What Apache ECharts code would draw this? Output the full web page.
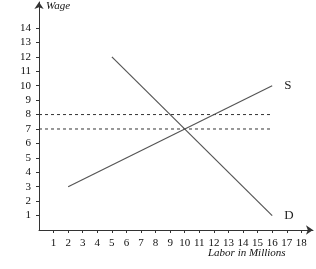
<!DOCTYPE html>
<html>
<head>
<meta charset="utf-8">
<script src="https://cdn.jsdelivr.net/npm/echarts@6/dist/echarts.min.js"></script>
<style>
  html, body { margin: 0; padding: 0; background: #fff; }
  #main { width: 316px; height: 269px; }
</style>
</head>
<body>
<div id="main"></div>
<script>
// supply and demand lines (labor in millions, wage)
var supplyX = [2, 16];
var supplyY = [3, 10];
var demandX = [5, 16];
var demandY = [12, 1];
var wageLevels = [7, 8];
var dashStart = 0;
var dashEnd = 16;
var xTicks = [1, 2, 3, 4, 5, 6, 7, 8, 9, 10, 11, 12, 13, 14, 15, 16, 17, 18];
var yTicks = [1, 2, 3, 4, 5, 6, 7, 8, 9, 10, 11, 12, 13, 14];

var myChart = echarts.init(document.getElementById('main'));

var font = 'Liberation Serif';
var ink = '#333';

function pairs(xs, ys) {
  return xs.map(function (x, i) { return [x, ys[i]]; });
}

var series = [];
wageLevels.forEach(function (w) {
  series.push({
    type: 'line', xAxisIndex: 0, yAxisIndex: 0,
    data: [[dashStart, w], [dashEnd, w]],
    symbol: 'none', silent: true,
    lineStyle: { color: ink, width: 1, type: [3, 3] }
  });
});
// curve name printed right after its end point
function endLbl(text) {
  return { show: true, formatter: text, distance: 12, fontFamily: font, fontSize: 13, color: '#222' };
}
series.push({
  name: 'S', type: 'line', xAxisIndex: 0, yAxisIndex: 0,
  data: pairs(supplyX, supplyY),
  symbol: 'none', lineStyle: { color: '#555', width: 1.2 },
  endLabel: endLbl('S')
});
series.push({
  name: 'D', type: 'line', xAxisIndex: 0, yAxisIndex: 0,
  data: pairs(demandX, demandY),
  symbol: 'none', lineStyle: { color: '#555', width: 1.2 },
  endLabel: endLbl('D')
});

var xBase = { type: 'value', min: 0, max: 18.8, splitLine: { show: false } };
var yBase = { type: 'value', min: 0, max: 15.8, splitLine: { show: false } };

myChart.setOption({
  animation: false,
  grid: { left: 39, right: 3, top: 2, bottom: 39 },
  xAxis: [
    Object.assign({}, xBase, {
      axisLine: { show: true, symbol: ['none', 'arrow'], symbolSize: [7, 7], lineStyle: { color: ink, width: 1 } },
      axisTick: { show: true, inside: false, length: 3, customValues: xTicks, lineStyle: { color: ink } },
      axisLabel: { customValues: xTicks, margin: 8, fontFamily: font, fontSize: 11, color: '#111' }
    }),
    Object.assign({}, xBase, {
      axisLine: { show: false },
      axisTick: { show: true, inside: true, length: 3, customValues: xTicks, lineStyle: { color: ink } },
      axisLabel: { show: false }
    })
  ],
  yAxis: [
    Object.assign({}, yBase, {
      axisLine: { show: true, symbol: ['none', 'arrow'], symbolSize: [7, 7], lineStyle: { color: ink, width: 1 } },
      axisTick: { show: true, inside: false, length: 3, customValues: yTicks, lineStyle: { color: ink } },
      axisLabel: { customValues: yTicks, margin: 8, fontFamily: font, fontSize: 11, color: '#111' }
    }),
    Object.assign({}, yBase, {
      axisLine: { show: false },
      axisTick: { show: true, inside: true, length: 3, customValues: yTicks, lineStyle: { color: ink } },
      axisLabel: { show: false }
    })
  ],
  graphic: [
    { type: 'text', left: 46, top: 1, style: { text: 'Wage', font: 'italic 11px "Liberation Serif"', fill: '#111' } },
    { type: 'text', left: 208, top: 248, style: { text: 'Labor in Millions', font: 'italic 11px "Liberation Serif"', fill: '#111' } }
  ],
  series: series
});
</script>
</body>
</html>
